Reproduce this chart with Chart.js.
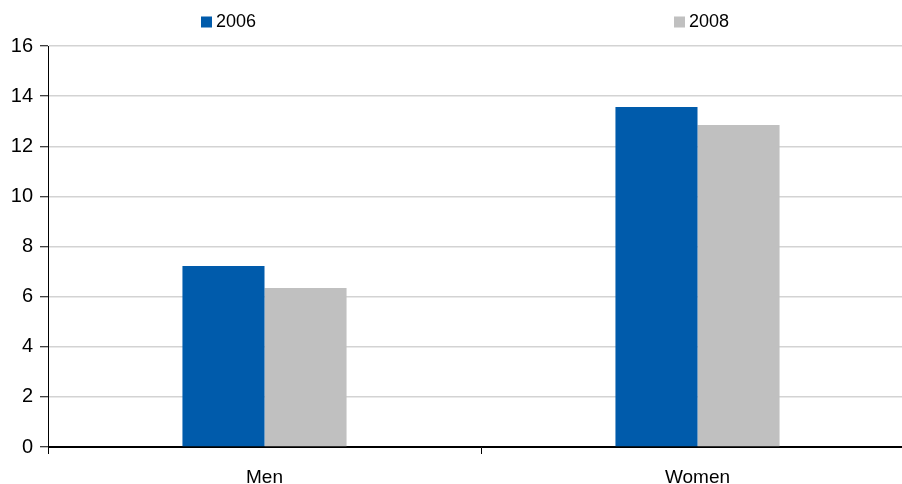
<!DOCTYPE html>
<html>
<head>
<meta charset="utf-8">
<script src="https://cdn.jsdelivr.net/npm/chart.js@4/dist/chart.umd.min.js"></script>
<style>
  html, body { margin: 0; padding: 0; background: #ffffff; }
  #wrap { width: 902px; height: 484px; overflow: hidden; position: relative; }
  #chart { display: block; }
</style>
</head>
<body>
<div id="wrap"><canvas id="chart" width="914" height="484"></canvas></div>
<script>
// Categories and series
const categories = ['Men', 'Women'];
const seriesLabels = ['2006', '2008'];
const values2006 = [7.22, 13.57];
const values2008 = [6.34, 12.85];
const yTicks = [0, 2, 4, 6, 8, 10, 12, 14, 16];

const BLUE = '#005BAB';
const GREY = '#C0C0C0';
const FONT = '"Liberation Sans", Arial, sans-serif';

// Legend drawn along the top, each entry anchored at its own x position
const topLegend = {
  id: 'topLegend',
  afterDraw(chart, args, opts) {
    const ctx = chart.ctx;
    ctx.save();
    ctx.font = '18px ' + FONT;
    ctx.textBaseline = 'middle';
    ctx.textAlign = 'left';
    chart.data.datasets.forEach((ds, i) => {
      const x = opts.positions[i];
      const y = opts.y;
      ctx.fillStyle = ds.backgroundColor;
      ctx.fillRect(x, y - 5.5, 11, 11);
      ctx.fillStyle = '#000000';
      ctx.fillText(ds.label, x + 15, y + 0.5);
    });
    ctx.restore();
  }
};

new Chart(document.getElementById('chart'), {
  type: 'bar',
  data: {
    labels: categories,
    datasets: [
      { label: seriesLabels[0], data: values2006, backgroundColor: BLUE, borderWidth: 0 },
      { label: seriesLabels[1], data: values2008, backgroundColor: GREY, borderWidth: 0 }
    ]
  },
  options: {
    responsive: false,
    animation: false,
    devicePixelRatio: 1,
    layout: { padding: { top: 46, left: 0, right: 0, bottom: 0 } },
    datasets: {
      bar: { categoryPercentage: 0.379, barPercentage: 1.0 }
    },
    plugins: {
      legend: { display: false },
      tooltip: { enabled: false },
      topLegend: { positions: [201, 674], y: 22 }
    },
    scales: {
      x: {
        offset: true,
        grid: {
          offset: true,
          drawOnChartArea: false,
          drawTicks: true,
          tickLength: 7,
          tickColor: '#000000',
          tickWidth: 1
        },
        border: { display: true, color: '#000000', width: 1 },
        ticks: {
          color: '#000000',
          font: { family: FONT, size: 19 },
          padding: 12
        },
        afterFit(scale) { scale.height = 37; }
      },
      y: {
        min: 0,
        max: 16,
        afterBuildTicks(scale) { scale.ticks = yTicks.map(v => ({ value: v })); },
        grid: {
          color: (c) => c.tick && c.tick.value === 0 ? '#000000' : '#D3D3D3',
          lineWidth: 1.5,
          tickLength: 8,
          tickColor: '#000000',
          tickWidth: 1
        },
        border: { display: true, color: '#000000', width: 1 },
        ticks: {
          color: '#000000',
          font: { family: FONT, size: 20 },
          padding: 7
        },
        afterFit(scale) { scale.width = 48; }
      }
    }
  },
  plugins: [topLegend]
});
</script>
</body>
</html>
